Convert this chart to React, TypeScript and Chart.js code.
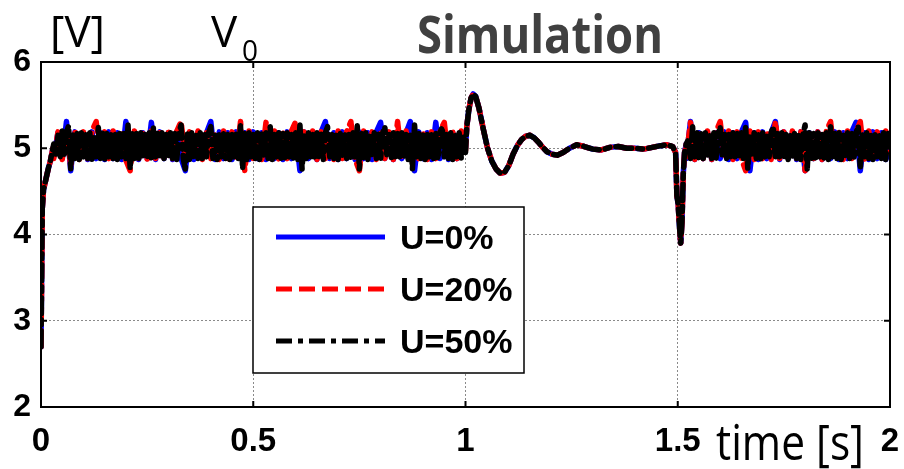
import React, { useEffect, useRef } from "react";
import { Chart, registerables } from "chart.js";
Chart.register(...registerables);

// ---- data (volts vs. seconds) ----
const START_T = [0, 0.003, 0.006, 0.012, 0.018, 0.022, 0.028];
const START_V = [2.7, 4.3, 4.52, 4.65, 4.78, 4.85, 5.0];

// switching-ripple band 1 (0.03 s .. 1.0 s)
const BAND1_T0 = 0.03;
const BAND1_DT_K = 0.005;
const BAND1_K = [
  5.05, 4.9, 5.15, 4.88, 5.2, 4.9, 5.18, 5.26, 4.76, 5.18,
  4.88, 5.17, 4.87, 5.18, 4.9, 5.16, 4.88, 5.18, 4.87, 5.15,
  4.9, 5.24, 4.88, 5.18, 4.87, 5.17, 4.9, 5.18, 4.88, 5.16,
  4.87, 5.18, 4.9, 5.17, 4.88, 5.27, 4.76, 5.18, 4.88, 5.17,
  4.87, 5.18, 4.9, 5.16, 4.88, 5.18, 4.87, 5.25, 4.9, 5.17,
  4.88, 5.18, 4.87, 5.16, 4.9, 5.18, 4.88, 5.17, 4.87, 5.18,
  5.27, 4.88, 4.76, 5.17, 4.87, 5.18, 4.9, 5.16, 4.88, 5.18,
  4.87, 5.17, 4.9, 5.18, 5.25, 4.88, 5.16, 4.87, 5.18, 4.9,
  5.17, 4.88, 5.18, 4.87, 5.16, 4.9, 5.18, 4.88, 5.26, 4.76,
  5.17, 4.87, 5.18, 4.9, 5.16, 4.88, 5.18, 4.87, 5.17, 4.9,
  5.18, 4.88, 5.25, 4.87, 5.16, 4.9, 5.18, 4.88, 5.17, 4.87,
  5.18, 4.9, 5.16, 4.88, 5.18, 4.87, 5.27, 4.76, 5.17, 4.88,
  5.18, 4.87, 5.16, 4.9, 5.18, 4.88, 5.17, 4.87, 5.18, 5.25,
  4.9, 5.16, 4.88, 5.18, 4.87, 5.17, 4.9, 5.18, 4.88, 5.16,
  4.87, 5.18, 4.9, 5.26, 4.76, 5.17, 4.88, 5.18, 4.87, 5.16,
  4.9, 5.18, 4.88, 5.17, 4.87, 5.18, 5.25, 4.9, 5.16, 4.88,
  5.18, 4.87, 5.17, 4.9, 5.18, 4.88, 5.16, 4.87, 5.18, 4.76,
  5.27, 4.9, 5.17, 4.88, 5.18, 4.87, 5.16, 4.9, 5.18, 4.88,
  5.17, 4.87, 5.18, 5.25, 4.9, 5.16, 4.88, 5.18, 4.87, 5.17,
  4.9, 5.18, 4.88, 5.16, 4.95,
];
const BAND1_DT_RB = 0.01;
const BAND1_R = [
  4.88, 5.19, 4.87, 5.22, 4.8, 5.2, 4.87, 5.19, 4.88, 5.2,
  5.31, 4.87, 5.19, 4.88, 5.2, 4.87, 5.18, 4.86, 4.74, 5.2,
  4.88, 5.19, 4.87, 5.2, 4.88, 5.18, 4.87, 5.19, 4.88, 5.2,
  5.31, 4.87, 5.19, 4.88, 5.2, 4.87, 5.18, 4.88, 5.19, 4.87,
  5.2, 4.88, 5.19, 4.87, 5.31, 4.74, 5.2, 4.88, 5.19, 4.87,
  5.3, 4.88, 5.2, 4.87, 5.19, 4.88, 5.2, 5.31, 4.87, 5.19,
  4.88, 5.2, 4.87, 5.19, 4.88, 5.18, 4.87, 5.2, 4.88, 5.19,
  5.31, 4.87, 4.74, 5.2, 4.88, 5.19, 4.87, 5.2, 4.88, 5.19,
  4.87, 5.31, 4.88, 5.2, 4.87, 5.19, 4.88, 5.2, 4.87, 5.19,
  4.88, 5.2, 5.3, 4.87, 5.19, 4.88, 5.2, 4.97,
];
const BAND1_B = [
  4.9, 5.18, 4.88, 5.31, 4.74, 5.19, 4.88, 5.18, 4.87, 5.19,
  4.88, 5.18, 4.87, 5.19, 4.88, 5.18, 4.87, 5.31, 4.88, 5.19,
  4.87, 5.18, 4.88, 5.3, 4.87, 5.19, 4.88, 5.18, 4.87, 5.19,
  4.88, 4.74, 5.18, 4.87, 5.19, 4.88, 5.18, 5.31, 4.87, 5.19,
  4.88, 5.18, 4.87, 5.19, 4.88, 5.18, 4.87, 5.19, 4.88, 5.18,
  4.87, 5.19, 4.88, 5.18, 4.87, 5.19, 4.88, 5.18, 4.74, 5.19,
  4.88, 5.18, 4.87, 5.19, 5.31, 4.88, 5.18, 4.87, 5.19, 4.88,
  5.18, 4.87, 5.19, 4.88, 5.18, 4.87, 5.19, 5.3, 4.88, 5.18,
  4.87, 5.19, 4.88, 5.18, 5.31, 4.74, 5.19, 4.88, 5.18, 4.87,
  5.3, 4.88, 5.19, 4.87, 5.18, 4.88, 5.19, 5.0,
];

// load-step transient (1.0 s .. 1.52 s)
const TRANS_T = [
  1.003, 1.008, 1.013, 1.018, 1.024, 1.032, 1.042, 1.052, 1.062, 1.072,
  1.082, 1.092, 1.102, 1.112, 1.122, 1.132, 1.142, 1.152, 1.162, 1.172,
  1.182, 1.192, 1.204, 1.216, 1.23, 1.245, 1.262, 1.28, 1.3, 1.32,
  1.34, 1.36, 1.38, 1.4, 1.42, 1.44, 1.46, 1.475, 1.488, 1.495,
  1.498, 1.501, 1.504, 1.507, 1.51, 1.513, 1.516, 1.52,
];
const TRANS_V = [
  5.25, 5.45, 5.58, 5.63, 5.6, 5.46, 5.22, 5.0, 4.85, 4.76,
  4.71, 4.72, 4.8, 4.93, 5.03, 5.1, 5.14, 5.15, 5.12, 5.07,
  5.01, 4.96, 4.93, 4.92, 4.95, 5.0, 5.04, 5.02, 4.99, 4.98,
  5.01, 5.02, 5.0, 5.0, 4.99, 5.01, 5.03, 5.04, 5.02, 4.95,
  4.45, 4.35, 4.1, 3.9, 4.15, 4.7, 4.95, 5.05,
];

// switching-ripple band 2 (1.52 s .. 2.0 s)
const BAND2_T0_K = 1.525;
const BAND2_K = [
  5.1, 4.88, 5.25, 4.9, 5.18, 4.87, 5.17, 4.88, 5.18, 4.9,
  5.16, 4.88, 5.18, 4.87, 5.17, 5.25, 4.9, 5.18, 4.88, 5.16,
  4.87, 5.18, 4.9, 5.17, 4.88, 5.18, 4.87, 5.26, 4.76, 5.16,
  4.9, 5.18, 4.88, 5.17, 4.87, 5.18, 4.9, 5.16, 4.88, 5.18,
  5.25, 4.87, 5.17, 4.9, 5.18, 4.88, 5.16, 4.87, 5.18, 4.9,
  5.17, 4.88, 5.18, 4.87, 5.16, 5.27, 4.76, 5.18, 4.88, 5.17,
  4.87, 5.18, 4.9, 5.16, 4.88, 5.18, 4.87, 5.25, 4.9, 5.17,
  4.88, 5.18, 4.87, 5.16, 4.9, 5.18, 4.88, 5.17, 4.87, 5.18,
  5.26, 4.76, 5.16, 4.9, 5.18, 4.88, 5.17, 4.87, 5.18, 4.9,
  5.16, 4.88, 5.18, 4.87, 5.17, 5.0,
];
const BAND2_T0_RB = 1.52;
const BAND2_R = [
  4.9, 5.3, 4.87, 5.19, 4.88, 5.2, 4.87, 5.19, 5.31, 4.88,
  5.2, 4.87, 5.19, 4.88, 4.74, 5.2, 4.87, 5.19, 4.88, 5.2,
  4.87, 5.31, 4.88, 5.19, 4.87, 5.2, 4.88, 5.19, 4.74, 5.2,
  4.88, 5.19, 4.87, 5.2, 5.31, 4.88, 5.19, 4.87, 5.2, 4.88,
  5.19, 5.31, 4.87, 5.2, 4.88, 5.19, 4.87, 5.2, 4.95,
];
const BAND2_B = [
  4.88, 5.31, 4.87, 5.18, 4.88, 5.19, 4.87, 5.18, 4.88, 5.19,
  4.87, 5.18, 4.88, 5.19, 5.3, 4.74, 5.18, 4.87, 5.19, 4.88,
  5.18, 5.31, 4.87, 5.19, 4.88, 5.18, 4.87, 5.19, 4.74, 5.18,
  4.88, 5.19, 4.87, 5.18, 4.88, 5.19, 4.87, 5.18, 4.88, 5.19,
  5.3, 4.74, 5.18, 4.87, 5.19, 4.88, 5.18, 4.87, 5.0,
];

const X_TICKS = [0, 0.5, 1, 1.5, 2];
const Y_TICKS = [2, 3, 4, 5, 6];
const LABELS = ["U=0%", "U=20%", "U=50%"];
const COLORS = ["#0000ff", "#ff0000", "#000000"];

type P = { x: number; y: number };
const pairs = (t: number[], v: number[]): P[] => t.map((x, i) => ({ x, y: v[i] }));
const grid = (t0: number, dt: number, v: number[]): P[] =>
  v.map((y, i) => ({ x: +(t0 + i * dt).toFixed(4), y }));

const seriesK = [
  ...pairs(START_T, START_V),
  ...grid(BAND1_T0, BAND1_DT_K, BAND1_K),
  ...pairs(TRANS_T, TRANS_V),
  ...grid(BAND2_T0_K, BAND1_DT_K, BAND2_K),
];
const seriesR = [
  ...pairs(START_T, START_V),
  ...grid(BAND1_T0, BAND1_DT_RB, BAND1_R),
  ...pairs(TRANS_T, TRANS_V),
  ...grid(BAND2_T0_RB, BAND1_DT_RB, BAND2_R),
];
const seriesB = [
  ...pairs(START_T, START_V),
  ...grid(BAND1_T0, BAND1_DT_RB, BAND1_B),
  ...pairs(TRANS_T, TRANS_V),
  ...grid(BAND2_T0_RB, BAND1_DT_RB, BAND2_B),
];

const DASHES: number[][] = [[], [16, 7], [16, 6, 5, 6]];
const LW = 5.5;

function drawScaled(ctx: CanvasRenderingContext2D, text: string, x: number, y: number, font: string, color: string, targetW?: number) {
  ctx.save();
  ctx.font = font;
  ctx.fillStyle = color;
  ctx.textAlign = "left";
  ctx.textBaseline = "alphabetic";
  const w = ctx.measureText(text).width;
  const sx = targetW ? targetW / w : 1;
  ctx.translate(x, y);
  ctx.scale(sx, 1);
  ctx.fillText(text, 0, 0);
  ctx.restore();
}

const framePlugin = {
  id: "frame",
  afterDraw(chart: any) {
    const { ctx, chartArea: a, scales } = chart;
    ctx.save();
    ctx.strokeStyle = "#000";
    ctx.lineWidth = 2;
    ctx.strokeRect(a.left, a.top, a.right - a.left, a.bottom - a.top);
    const tl = 6;
    ctx.beginPath();
    X_TICKS.forEach((v) => {
      const px = scales.x.getPixelForValue(v);
      ctx.moveTo(px, a.bottom);
      ctx.lineTo(px, a.bottom - tl);
      ctx.moveTo(px, a.top);
      ctx.lineTo(px, a.top + tl);
    });
    Y_TICKS.forEach((v) => {
      const py = scales.y.getPixelForValue(v);
      ctx.moveTo(a.left, py);
      ctx.lineTo(a.left + tl, py);
      ctx.moveTo(a.right, py);
      ctx.lineTo(a.right - tl, py);
    });
    ctx.stroke();
    ctx.restore();
  },
};

const legendPlugin = {
  id: "customLegend",
  afterDraw(chart: any) {
    const { ctx } = chart;
    const bx = 253, by = 207, bw = 271, bh = 166;
    ctx.save();
    ctx.fillStyle = "#fff";
    ctx.fillRect(bx, by, bw, bh);
    ctx.strokeStyle = "#000";
    ctx.lineWidth = 1.5;
    ctx.strokeRect(bx, by, bw, bh);
    const rows = [237, 289, 341];
    chart.data.datasets.forEach((d: any, i: number) => {
      const y = rows[i];
      ctx.beginPath();
      ctx.setLineDash(d.borderDash || []);
      ctx.strokeStyle = d.borderColor;
      ctx.lineWidth = 5;
      ctx.lineCap = "butt";
      ctx.moveTo(276, y);
      ctx.lineTo(385, y);
      ctx.stroke();
      ctx.setLineDash([]);
      ctx.fillStyle = "#000";
      ctx.font = "bold 34px 'Liberation Sans', Arial, sans-serif";
      ctx.textBaseline = "middle";
      ctx.fillText(d.label, 400, y + 3);
    });
    ctx.restore();
  },
};

const titlePlugin = {
  id: "titles",
  afterDraw(chart: any) {
    const { ctx } = chart;
    drawScaled(ctx, "[V]", 50, 47, "44px 'Open Sans', sans-serif", "#000", 55);
    drawScaled(ctx, "V", 211, 47, "44px 'Open Sans', sans-serif", "#000");
    drawScaled(ctx, "0", 242, 61, "30px 'Open Sans', sans-serif", "#000", 16);
    drawScaled(ctx, "Simulation", 417, 53, "bold 52px 'Open Sans', sans-serif", "#404040", 246);
    drawScaled(ctx, "time [s]", 716, 460, "50px 'Open Sans', sans-serif", "#000", 148);
  },
};

export default function App() {
  const ref = useRef<HTMLCanvasElement>(null);
  useEffect(() => {
    const canvas = ref.current!;
    const mk = (i: number, data: P[], order: number) => ({
      label: LABELS[i],
      data,
      borderColor: COLORS[i],
      backgroundColor: COLORS[i],
      borderWidth: LW,
      borderDash: DASHES[i],
      borderJoinStyle: "round" as const,
      borderCapStyle: "round" as const,
      pointRadius: 0,
      fill: false,
      tension: 0,
      order,
    });
    const gridColor = (edge: number[]) => (c: any) =>
      edge.includes(c.tick?.value) ? "rgba(0,0,0,0)" : "#8a8a8a";
    const chart = new Chart(canvas, {
      type: "line",
      data: { datasets: [mk(0, seriesB, 3), mk(1, seriesR, 2), mk(2, seriesK, 1)] as any },
      options: {
        animation: false,
        responsive: false,
        layout: { padding: { left: 0, top: 62, right: 14, bottom: 0 } },
        plugins: { legend: { display: false }, tooltip: { enabled: false } },
        scales: {
          x: {
            type: "linear",
            min: 0,
            max: 2,
            afterBuildTicks: (s: any) => { s.ticks = X_TICKS.map((value) => ({ value })); },
            afterFit: (s: any) => {
              s.height = 62;
              s.paddingLeft = 0;
              s.paddingRight = 0;
            },
            ticks: {
              callback: (v: any) => String(v),
              font: { family: "'Liberation Sans', Arial, sans-serif", size: 33, weight: "bold" },
              color: "#000",
              padding: 15,
              maxRotation: 0,
              autoSkip: false,
            },
            grid: { color: gridColor([0, 2]), lineWidth: 1, drawTicks: false } as any,
            border: { display: false, dash: [2, 2] },
          },
          y: {
            type: "linear",
            min: 2,
            max: 6,
            afterBuildTicks: (s: any) => { s.ticks = Y_TICKS.map((value) => ({ value })); },
            afterFit: (s: any) => {
              s.width = 41;
              s.paddingTop = 0;
              s.paddingBottom = 0;
            },
            ticks: {
              callback: (v: any) => String(v),
              font: { family: "'Liberation Sans', Arial, sans-serif", size: 32, weight: "bold" },
              color: "#000",
              padding: 10,
            },
            grid: { color: gridColor([2, 6]), lineWidth: 1, drawTicks: false } as any,
            border: { display: false, dash: [2, 2] },
          },
        },
      },
      plugins: [framePlugin, legendPlugin, titlePlugin],
    });
    return () => chart.destroy();
  }, []);
  return (
    <div style={{ position: "fixed", left: 0, top: 0, width: 904, height: 469, background: "#fff" }}>
      <canvas ref={ref} width={904} height={469} style={{ display: "block" }} />
    </div>
  );
}
